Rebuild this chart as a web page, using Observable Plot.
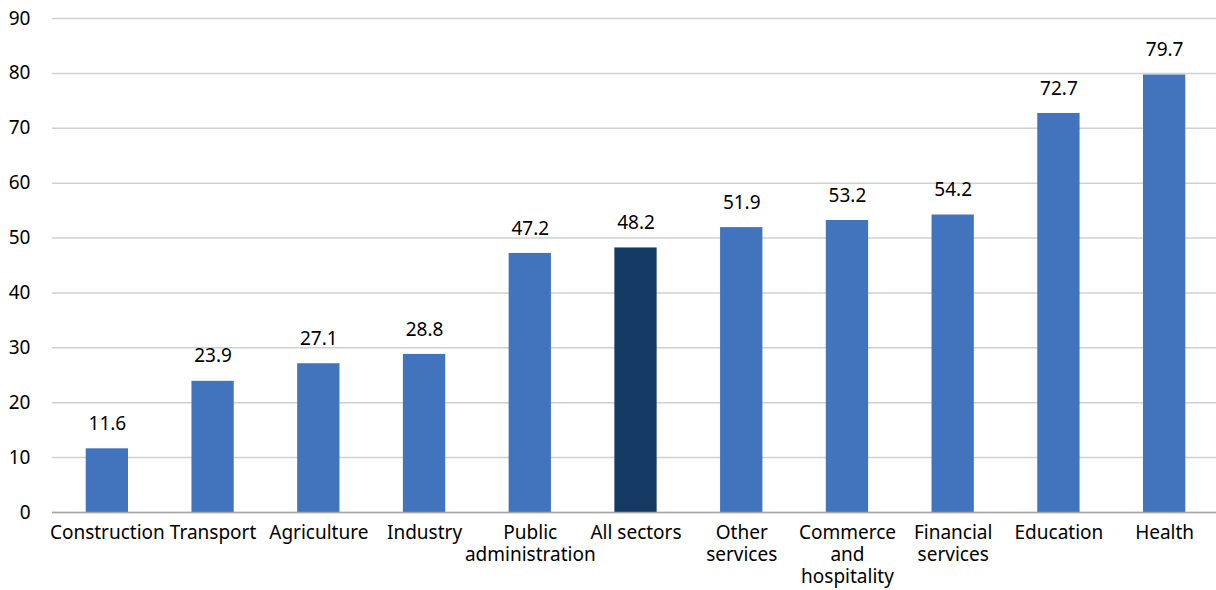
<!DOCTYPE html>
<html>
<head>
<meta charset="utf-8">
<script src="https://cdn.jsdelivr.net/npm/d3@7"></script>
<script src="https://cdn.jsdelivr.net/npm/@observablehq/plot@0.6"></script>
<style>
  html, body { margin: 0; padding: 0; background: #fff; }
  #chart svg { display: block; }
</style>
</head>
<body>
<div id="chart"></div>
<script>
const sectors = ["Construction", "Transport", "Agriculture", "Industry", "Public administration", "All sectors", "Other services", "Commerce and hospitality", "Financial services", "Education", "Health"];
const tickLabels = ["Construction", "Transport", "Agriculture", "Industry", "Public\nadministration", "All sectors", "Other\nservices", "Commerce\nand\nhospitality", "Financial\nservices", "Education", "Health"];
const values = [11.6, 23.9, 27.1, 28.8, 47.2, 48.2, 51.9, 53.2, 54.2, 72.7, 79.7];
const highlight = "All sectors";
const yTicks = [0, 10, 20, 30, 40, 50, 60, 70, 80, 90];

const data = sectors.map((s, i) => ({sector: s, value: values[i], label: tickLabels[i]}));
const labelOf = new Map(data.map(d => [d.sector, d.label]));

const chart = Plot.plot({
  width: 1216,
  height: 590,
  marginLeft: 52,
  marginRight: 0,
  marginTop: 18,
  marginBottom: 78,
  style: {fontFamily: "'Noto Sans', sans-serif", fontSize: "19px", color: "#000", background: "#fff"},
  x: {domain: sectors, range: [54, 1217], paddingInner: 0.6, paddingOuter: 0.3, round: false, label: null},
  y: {domain: [0, 90], label: null},
  marks: [
    Plot.gridY(yTicks, {stroke: "#d0d0d0", strokeOpacity: 1, strokeWidth: 1.5}),
    Plot.barY(data, {x: "sector", y: "value", fill: d => d.sector === highlight ? "#153B65" : "#4174BC"}),
    Plot.text(data, {x: "sector", y: "value", text: d => d.value.toFixed(1), dy: -25, fontSize: 19, fill: "#000"}),
    Plot.ruleX([0], {frameAnchor: "left", stroke: "#a6a6a6", strokeWidth: 1.5}),
    Plot.ruleY([0], {stroke: "#a6a6a6", strokeWidth: 1.5}),
    Plot.axisY(yTicks, {tickSize: 0, tickPadding: 22, fontSize: 19, fill: "#000", label: null}),
    Plot.axisX({tickSize: 0, tickPadding: 11, fontSize: 19, fill: "#000", label: null, tickFormat: s => labelOf.get(s), lineHeight: 1.16})
  ]
});
document.getElementById("chart").appendChild(chart);
</script>
</body>
</html>
